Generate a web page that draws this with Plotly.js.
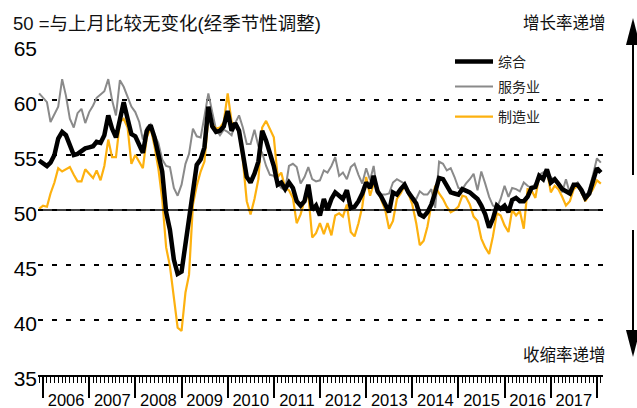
<!DOCTYPE html>
<html><head><meta charset="utf-8">
<script src="https://cdn.plot.ly/plotly-3.0.1.min.js"></script>
<style>html,body{margin:0;padding:0;background:#fff;}#chart{width:637px;height:408px;}</style>
</head><body><div id="chart"></div>
<script>
// ---- data (monthly, first point Dec 2005) ----
const startYear = 2005;
const startMonth = 12;
const seriesNames = ['综合', '服务业', '制造业'];
const composite = [
54.5,54.3,54.0,54.3,55.0,56.5,57.1,56.8,55.9,55.0,55.1,55.4,
55.6,55.7,55.8,56.2,56.1,56.8,58.6,57.4,56.6,58.2,59.8,58.3,
56.9,56.7,55.8,55.2,57.2,57.7,56.6,55.2,53.5,49.8,48.2,45.5,
44.2,44.4,46.8,48.7,51.8,54.1,54.6,55.7,59.4,57.6,57.1,57.2,
57.6,59.0,57.2,57.9,57.2,55.3,53.0,52.5,53.3,54.4,57.2,56.3,
55.3,54.0,52.3,52.5,51.9,52.5,52.0,50.8,50.4,50.8,52.3,50.0,
50.4,49.5,51.0,50.0,51.0,51.6,51.3,51.0,51.8,50.2,50.3,50.8,
51.5,52.5,52.0,53.1,51.7,51.2,50.5,49.8,51.6,51.4,51.9,52.3,
51.6,51.1,50.6,49.6,49.4,49.8,50.5,51.6,52.9,52.8,52.2,51.6,
51.5,51.4,51.9,51.8,51.6,51.3,51.0,50.4,49.6,48.4,49.2,50.4,
50.1,50.4,49.8,50.9,51.1,50.8,50.8,51.2,52.0,52.1,53.1,52.8,
53.7,52.5,52.8,52.4,51.9,51.7,51.5,52.3,52.3,51.8,51.1,51.5,
52.5,53.8,53.4];
const services = [
60.6,60.2,59.8,58.0,58.7,59.4,61.9,60.4,58.3,57.5,58.8,59.2,
57.9,58.9,59.5,60.2,60.5,60.8,61.9,60.0,58.6,61.8,61.2,60.3,
59.4,58.9,58.0,56.4,57.5,57.8,56.8,56.1,54.6,54.0,53.9,52.0,
51.3,52.3,54.2,55.1,57.4,56.7,56.6,58.5,60.6,58.9,57.3,56.8,
57.3,57.1,56.8,57.9,58.6,57.5,56.0,56.0,57.3,55.8,55.2,54.0,
53.2,53.1,52.4,52.0,51.8,54.0,54.2,53.9,52.4,53.0,53.9,52.8,
52.6,52.7,53.6,53.4,54.0,54.8,53.1,53.4,52.8,53.9,54.2,53.2,
52.4,53.8,52.7,54.0,51.5,51.4,51.4,51.5,52.5,52.8,52.6,52.4,
51.4,51.1,51.0,51.7,51.4,51.4,51.9,50.2,54.4,54.2,53.6,53.8,
53.0,52.0,51.9,52.4,52.8,53.3,51.8,53.5,52.4,51.2,50.4,50.2,
51.0,52.2,51.2,52.0,51.9,51.7,52.5,52.2,52.0,52.4,53.2,53.4,
53.6,53.0,52.6,52.3,51.6,52.8,51.5,52.2,52.5,51.5,51.0,51.9,
53.2,54.7,54.3];
const manufacturing = [
50.1,50.4,50.3,51.5,52.5,53.8,53.5,53.7,53.9,53.2,52.6,52.6,
53.7,53.3,52.9,53.6,52.7,54.0,56.4,54.8,54.8,58.0,58.3,57.5,
54.2,55.0,54.4,53.8,56.6,57.5,55.8,53.8,51.0,46.6,44.9,41.8,
39.3,39.0,42.5,44.1,50.5,52.2,53.5,54.4,58.4,57.8,57.4,57.5,
58.0,60.6,58.0,57.7,57.1,54.5,50.8,49.6,51.0,52.8,57.5,58.1,
57.3,56.6,53.0,53.4,52.0,51.8,51.1,48.8,49.6,50.9,51.4,47.5,
47.9,48.8,47.8,48.8,47.7,49.5,49.7,49.4,50.5,48.0,47.6,48.8,
50.3,53.0,51.3,52.4,52.0,50.9,50.0,48.3,49.0,51.0,51.5,52.2,
51.5,50.5,48.8,46.8,47.2,48.5,50.5,52.2,51.5,51.0,50.3,49.8,
50.0,50.3,51.3,51.2,50.5,49.4,49.0,47.4,46.6,46.0,47.6,49.7,
49.5,48.6,48.0,50.0,49.5,49.9,48.3,51.9,51.8,51.1,53.1,52.8,
53.6,51.6,52.2,51.9,51.2,50.4,50.8,51.9,52.2,51.6,50.8,51.3,
51.9,52.7,52.4];
const yTickVals = [35, 40, 45, 50, 55, 60, 65];
const subtitle = '50 =与上月比较无变化(经季节性调整)';
const upLabel = '增长率递增';
const downLabel = '收缩率递增';

// ---- helpers ----
function monthDates(n) {
  const out = [];
  for (let i = 0; i < n; i++) {
    const mm = startMonth - 1 + i;
    const y = startYear + Math.floor(mm / 12);
    const m = (mm % 12) + 1;
    out.push(y + '-' + String(m).padStart(2, '0') + '-01');
  }
  return out;
}
const dates = monthDates(composite.length);

const W = 637, H = 408;
const M = {l: 38, r: 34, t: 45, b: 33};
const PW = W - M.l - M.r, PH = H - M.t - M.b;
const px = v => (v - M.l) / PW;      // pixel x -> paper
const py = v => (H - M.b - v) / PH;  // pixel y -> paper

const FONT = 'Liberation Sans, Arial, Noto Sans CJK SC, sans-serif';
const XRANGE = ['2005-11-22', '2018-02-18'];

const traces = [
  {x: dates, y: services, name: seriesNames[1], type: 'scatter', mode: 'lines',
   line: {color: '#8a8a8a', width: 2}, legend: 'legend2'},
  {x: dates, y: manufacturing, name: seriesNames[2], type: 'scatter', mode: 'lines',
   line: {color: '#FDB10F', width: 2.2}, legend: 'legend3'},
  {x: dates, y: composite, name: seriesNames[0], type: 'scatter', mode: 'lines',
   line: {color: '#000000', width: 4.5}, legend: 'legend'}
];

function legendAt(yPix) {
  return {x: px(450), y: py(yPix), xanchor: 'left', yanchor: 'middle',
    bgcolor: 'rgba(0,0,0,0)', borderwidth: 0,
    font: {size: 14, color: '#222', family: FONT}, itemwidth: 38};
}

const layout = {
  width: W, height: H,
  margin: M,
  paper_bgcolor: '#fff', plot_bgcolor: '#fff',
  font: {family: FONT, color: '#000'},
  showlegend: true,
  legend: legendAt(62),
  legend2: legendAt(87),
  legend3: legendAt(117),
  xaxis: {
    type: 'date', range: XRANGE,
    showgrid: false, zeroline: false,
    showline: true, linecolor: '#000', linewidth: 2,
    ticks: 'outside', ticklen: 21, tickwidth: 2, tickcolor: '#000',
    tick0: '2006-01-01', dtick: 'M12', tickformat: '%Y', ticklabelmode: 'period',
    ticklabelstandoff: -12,
    tickfont: {size: 16.5, color: '#000'},
    minor: {dtick: 'M1', tick0: '2006-01-01', ticks: 'outside', ticklen: 6, tickwidth: 1, tickcolor: '#000', showgrid: false},
    automargin: false, fixedrange: true
  },
  yaxis: {
    range: [35, 65], tickvals: yTickVals, showgrid: true,
    gridcolor: '#000', gridwidth: 1.5, griddash: '5px,9px',
    zeroline: false, showline: false, ticks: '',
    tickfont: {size: 21, color: '#000'}, ticklabelshift: 4,
    automargin: false, fixedrange: true
  },
  shapes: [
    {type: 'line', xref: 'paper', yref: 'y', x0: 0, x1: 0.995, y0: 50, y1: 50, line: {color: '#000', width: 1.6}},
    {type: 'line', xref: 'paper', yref: 'paper', x0: px(633), x1: px(633), y0: py(175), y1: py(42), line: {color: '#000', width: 2}},
    {type: 'path', xref: 'paper', yref: 'paper', fillcolor: '#000', line: {width: 0},
     path: 'M' + px(626) + ',' + py(45) + 'L' + px(640) + ',' + py(45) + 'L' + px(633) + ',' + py(18) + 'Z'},
    {type: 'line', xref: 'paper', yref: 'paper', x0: px(633), x1: px(633), y0: py(230), y1: py(333), line: {color: '#000', width: 2}},
    {type: 'path', xref: 'paper', yref: 'paper', fillcolor: '#000', line: {width: 0},
     path: 'M' + px(626) + ',' + py(330) + 'L' + px(640) + ',' + py(330) + 'L' + px(633) + ',' + py(357) + 'Z'}
  ],
  annotations: [
    {text: subtitle, xref: 'paper', yref: 'paper', x: px(11), y: py(23), xanchor: 'left', yanchor: 'middle',
     showarrow: false, font: {size: 18.5, color: '#111', family: FONT}},
    {text: upLabel, xref: 'paper', yref: 'paper', x: px(608), y: py(23), xanchor: 'right', yanchor: 'middle',
     showarrow: false, font: {size: 16.5, color: '#111', family: FONT}},
    {text: downLabel, xref: 'paper', yref: 'paper', x: px(608), y: py(355), xanchor: 'right', yanchor: 'middle',
     showarrow: false, font: {size: 16.5, color: '#111', family: FONT}}
  ]
};

Plotly.newPlot('chart', traces, layout, {displayModeBar: false, staticPlot: true});
</script>
</body></html>
